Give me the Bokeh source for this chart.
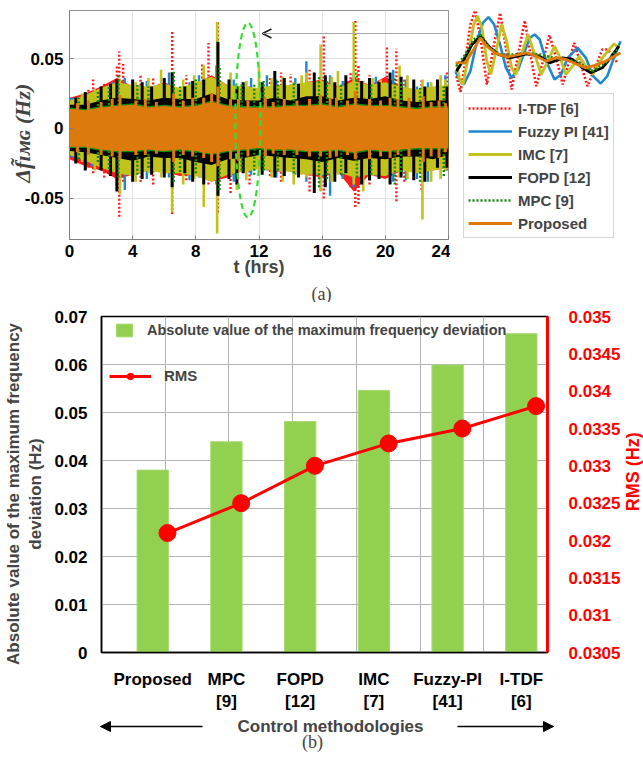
import numpy as np
from math import pi
from bokeh.plotting import figure
from bokeh.layouts import column, row
from bokeh.models import (Range1d, FixedTicker, Label, Arrow, OpenHead, NormalHead,
                          Legend, LegendItem, Grid, LinearAxis, ColumnDataSource)
from bokeh.transform import dodge
from bokeh.embed import file_html
from bokeh.resources import INLINE

SANS = "Liberation Sans"
SERIF = "Liberation Serif"
NB = "\u00a0"

# ---------------- (a) time series, values in mHz ----------------
hours = list(range(25))

itdf_hi = [22,25,30,36,30,29,33,28,32,38,31,28,27,30,29,33,35,30,36,31,37,30,27,29,31]
itdf_lo = [-22,-27,-30,-36,-33,-30,-31,-34,-33,-38,-35,-30,-28,-31,-30,-33,-35,-31,-45,-33,-36,-30,-31,-30,-28]
itdf_spk_t = [1.2,1.5,3.0,3.15,3.4,4.5,6.5,8.4,8.8,9.4,10.2,11.4,14.0,16.1,17.8,18.1,18.3,20.1,20.7,21.2,23.9,
              2.2,5.3,7.4,12.7,13.4,15.2,19.0,22.3]
itdf_spk_hi = [28,35,45,55,46,39,70,47,61,77,30,30,39,67,40,77,45,59,57,35,41,
               32,36,38,36,40,42,38,35]
itdf_spk_lo = [-28,-32,-40,-63,-38,-38,-61,-30,-40,-60,-46,-40,-30,-50,-42,-56,-54,-35,-52,-38,-30,
               -35,-40,-37,-34,-38,-45,-40,-44]

fuzzy_hi = [22,22,27,31,30,27,31,27,30,35,30,29,27,30,28,32,33,28,31,29,32,29,26,28,28]
fuzzy_lo = [-20,-23,-27,-31,-31,-28,-29,-31,-31,-35,-33,-28,-27,-29,-29,-32,-34,-30,-34,-31,-33,-28,-29,-28,-26]
fuzzy_spk_t = [0.1,3.5,6.3,9.3,11.5,12.5,13.1,15.0,16.5,18.0,20.5,22.0,23.8,
               1.4,2.7,4.9,7.6,8.2,10.4,14.3,17.3,19.4,21.3,22.7]
fuzzy_spk_hi = [21,36,40,45,36,38,35,48,38,40,42,30,38,
                26,33,34,33,38,35,36,34,37,35,33]
fuzzy_spk_lo = [-18,-44,-35,-40,-33,-30,-35,-38,-48,-42,-38,-36,-30,
                -27,-30,-36,-37,-35,-38,-33,-36,-34,-37,-38]

imc_hi = [20,24,29,33,31,30,32,29,33,37,31,30,29,31,31,33,34,29,34,31,33,30,28,30,31]
imc_lo = [-19,-23,-28,-32,-34,-30,-32,-32,-34,-38,-33,-31,-29,-30,-31,-33,-33,-31,-35,-33,-34,-30,-32,-30,-28]
imc_spk_t = [0.8,2.3,3.2,5.8,6.5,8.5,9.35,10.6,12.0,13.5,15.0,15.9,17.0,18.0,19.7,20.9,22.35,23.5,
             1.6,4.2,5.0,7.2,7.9,10.2,11.2,12.8,14.2,14.7,16.6,18.6,19.2,21.4,22.9,23.8]
imc_spk_hi = [25,30,35,42,40,45,76,32,43,37,40,60,41,76,35,45,35,38,
              28,33,36,35,38,40,34,36,33,38,37,34,36,38,33,35]
imc_spk_lo = [-24,-28,-47,-35,-60,-56,-75,-44,-30,-38,-35,-45,-33,-40,-30,-35,-65,-36,
              -30,-38,-32,-40,-36,-34,-37,-35,-40,-33,-38,-45,-34,-36,-38,-30]

fopd_hi = [17,17,20,22,21,20,22,21,21,25,21,20,20,22,20,23,23,20,22,21,23,20,19,20,20]
fopd_lo = [-16,-17,-19,-21,-23,-20,-21,-21,-24,-26,-22,-21,-19,-20,-21,-22,-24,-21,-23,-21,-22,-20,-20,-22,-19]
fopd_spk_t = [1.0,3.0,5.2,6.5,7.3,8.5,9.4,11.0,13.0,14.5,15.5,16.8,17.5,19.0,20.3,22.5,23.3,
              0.4,2.0,2.6,4.0,4.6,6.0,7.8,10.1,10.6,12.2,13.6,16.2,18.5,19.6,21.0,21.8,23.9]
fopd_spk_hi = [26,35,30,40,30,35,62,33,41,32,40,33,38,36,40,30,35,
               22,30,32,35,33,36,34,35,30,33,36,38,34,33,37,35,30]
fopd_spk_lo = [-30,-45,-33,-42,-32,-40,-48,-32,-35,-35,-46,-38,-32,-37,-40,-38,-28,
               -25,-30,-34,-38,-36,-35,-38,-36,-40,-33,-34,-42,-40,-36,-35,-37,-28]

mpc_hi = [15,14,16,17,18,16,17,16,17,20,17,16,16,16,17,17,18,16,18,17,17,16,15,16,16]
mpc_lo = [-14,-14,-16,-17,-17,-16,-17,-16,-17,-19,-17,-16,-15,-16,-16,-17,-17,-16,-18,-16,-17,-16,-15,-15,-15]
mpc_spk_t = [1.8,3.1,5.0,6.6,8.0,9.5,10.9,12.3,14.2,15.8,17.2,18.2,20.6,22.2,23.7,
             0.6,2.5,4.3,7.0,11.7,13.2,16.3,19.1,21.0]
mpc_spk_hi = [26,38,30,42,35,45,33,34,33,38,32,40,36,30,30,
              22,30,31,30,32,34,35,32,33]
mpc_spk_lo = [-24,-35,-28,-38,-32,-44,-30,-30,-32,-42,-33,-35,-40,-38,-34,
              -22,-29,-33,-31,-33,-30,-36,-33,-31]

prop_hi = [14,13,15,16,17,15,16,15,16,19,16,15,15,15,16,16,17,15,17,16,16,15,14,15,15]
prop_lo = [-13,-13,-15,-16,-16,-15,-16,-15,-16,-18,-16,-15,-14,-15,-15,-16,-16,-15,-17,-15,-16,-15,-14,-14,-14]
prop_spk_t = [1.2,3.2,4.8,6.6,7.8,9.4,10.7,12.4,13.6,15.9,16.9,18.1,20.3,21.5,22.4,23.4,
              0.5,2.0,2.7,4.2,5.5,7.2,8.5,9.0,10.2,11.3,12.9,14.4,15.2,16.5,17.6,19.0,19.7,20.8,22.9,23.8]
prop_spk_hi = [20,24,21,25,22,30,21,22,21,24,22,27,22,22,23,20,
               18,19,21,20,19,20,22,25,21,20,19,20,21,22,20,21,20,21,19,18]
prop_spk_lo = [-19,-22,-19,-24,-20,-27,-23,-20,-19,-20,-20,-22,-21,-20,-24,-21,
               -17,-19,-20,-19,-18,-19,-21,-24,-22,-20,-18,-19,-20,-21,-19,-22,-20,-19,-20,-17]

# zoomed window (inset), t in hours, v in mHz
inset_itdf_t = [10.608,10.642,10.684,10.726,10.768,10.816,10.866,10.922,10.978,11.028,11.076,11.132,11.188,11.236,11.286,11.342,11.398,11.454,11.51,11.56,11.608,11.664,11.72,11.784,11.846,11.888,11.93,11.972]
inset_itdf_v = [-10,-19.4,-1,21,29.4,11,-15,7,28,7,-18,3,23.4,3,-16,-1,14.6,1,-15,-2,10,-3,-16,-5,6,6,3,-2]
inset_fuzzy_t = [10.6,10.636,10.67,10.726,10.782,10.832,10.88,10.928,10.978,11.028,11.076,11.132,11.188,11.23,11.272,11.314,11.37,11.44,11.496,11.552,11.636,11.706,11.768,11.832,11.888,11.944,12.0]
inset_fuzzy_v = [-7,-12.6,-15,-7,11,22,25.4,21,9,-5,-11,-6,5,13,15,12,-1,-12,-9,1,7,1,-10,-14.4,-10,1,11]
inset_imc_t = [10.608,10.636,10.664,10.712,10.754,10.788,10.824,10.866,10.9,10.944,10.992,11.034,11.076,11.112,11.16,11.216,11.272,11.328,11.384,11.44,11.488,11.538,11.594,11.65,11.706,11.762,11.846,11.944,11.986]
inset_imc_v = [-3,-12,-15,3,21,26,19,-1,-9,5,21,11,-5,-9,3,15,3,-9,-1,8,1,-9,-4,2,-4,-9,1,9.4,7]
inset_fopd_t = [10.608,10.67,10.74,10.81,10.88,10.964,11.062,11.202,11.314,11.398,11.51,11.594,11.678,11.748,11.846,11.916,11.986]
inset_fopd_v = [-7,0,9,14,8,3,1,3.4,2,-2,1,0,-5,-8,-5,1,8]
inset_mpc_t = [10.608,10.684,10.754,10.81,10.894,10.978,11.09,11.202,11.314,11.426,11.538,11.65,11.762,11.874,11.986]
inset_mpc_v = [-4,3,12,15,7,3,3,4,3,1,0,-2,-7,-2,7]
inset_prop_t = [10.6,10.684,10.754,10.81,10.866,10.936,11.034,11.146,11.202,11.286,11.37,11.454,11.538,11.622,11.706,11.79,11.874,12.0]
inset_prop_v = [-2,-2,6,13,8,4,1.4,3,4,2,-1,1,0,-2.6,-5,-3.4,-1,4]

series_names = ["I-TDF [6]", "Fuzzy PI [41]", "IMC [7]", "FOPD [12]", "MPC [9]", "Proposed"]
y_ticks_a = [-0.05, 0, 0.05]
x_ticks_a = [0, 4, 8, 12, 16, 20, 24]

# ---------------- (b) bar + line data ----------------
methods = ["Proposed", "MPC\n[9]", "FOPD\n[12]", "IMC\n[7]", "Fuzzy-PI\n[41]", "I-TDF\n[6]"]
max_dev = [0.0380, 0.0439, 0.0481, 0.0546, 0.0599, 0.0664]
rms = [0.0321, 0.0325, 0.0330, 0.0333, 0.0335, 0.0338]
left_ticks_b = [0, 0.01, 0.02, 0.03, 0.04, 0.05, 0.06, 0.07]
rms_ticks_b = [0.0305, 0.031, 0.0315, 0.032, 0.0325, 0.033, 0.0335, 0.034, 0.0345, 0.035]

# ---------------- styles ----------------
styles = [
    dict(color="#FF1A1A", dash="2 2", w=2.4),
    dict(color="#1E88D0", dash="solid", w=2.4),
    dict(color="#C2C21C", dash="solid", w=2.6),
    dict(color="#000000", dash="solid", w=3.0),
    dict(color="#118811", dash="2 2", w=2.4),
    dict(color="#DD7A0E", dash="solid", w=3.0),
]
core = [(itdf_hi, itdf_lo), (fuzzy_hi, fuzzy_lo), (imc_hi, imc_lo),
        (fopd_hi, fopd_lo), (mpc_hi, mpc_lo), (prop_hi, prop_lo)]
spikes = [(itdf_spk_t, itdf_spk_hi, itdf_spk_lo), (fuzzy_spk_t, fuzzy_spk_hi, fuzzy_spk_lo),
          (imc_spk_t, imc_spk_hi, imc_spk_lo), (fopd_spk_t, fopd_spk_hi, fopd_spk_lo),
          (mpc_spk_t, mpc_spk_hi, mpc_spk_lo), (prop_spk_t, prop_spk_hi, prop_spk_lo)]
insets = [(inset_itdf_t, inset_itdf_v), (inset_fuzzy_t, inset_fuzzy_v), (inset_imc_t, inset_imc_v),
          (inset_fopd_t, inset_fopd_v), (inset_mpc_t, inset_mpc_v), (inset_prop_t, inset_prop_v)]

ZOOM_T0, ZOOM_T1, ZOOM_H, ZOOM_C = 10.5, 12.1, 0.139, 0.006

# ================= figure (a): main =================
TOP_B, BOT_B = 10, 45
p1 = figure(width=450, height=284, x_range=Range1d(0, 24), y_range=Range1d(-0.07929, 0.08429),
            output_backend="svg", toolbar_location=None,
            min_border_left=69, min_border_right=2, min_border_top=TOP_B, min_border_bottom=BOT_B)

def x1(px):
    return (px - 69) / 379 * 24

def y1(py):
    return (128 - py) / 70 * 0.05

for st, (hi, lo), (st_t, st_hi, st_lo) in zip(styles, core, spikes):
    p1.varea(x=hours, y1=np.array(lo) / 1000, y2=np.array(hi) / 1000, fill_color=st["color"])
    p1.segment(x0=st_t, x1=st_t, y0=np.array(st_lo) / 1000, y1=np.array(st_hi) / 1000,
               line_color=st["color"], line_width=st["w"], line_dash=st["dash"])

p1.ellipse(x=[(ZOOM_T0 + ZOOM_T1) / 2], y=[ZOOM_C], width=[ZOOM_T1 - ZOOM_T0], height=[ZOOM_H],
           fill_alpha=0, line_color="#33DD33", line_width=2.2, line_dash="6 4")
p1.add_layout(Arrow(x_start=24, y_start=y1(33), x_end=x1(262), y_end=y1(33),
                    line_color="#A8A8A8", line_width=1.2,
                    end=OpenHead(size=9, line_width=1.6, line_color="#222222")))

p1.xaxis.ticker = FixedTicker(ticks=x_ticks_a)
p1.yaxis.ticker = FixedTicker(ticks=y_ticks_a)
p1.yaxis.major_label_overrides = {t: ("0" if t == 0 else f"{t:g}") for t in y_ticks_a}
for ax in (p1.xaxis[0], p1.yaxis[0]):
    ax.axis_line_color = "#808080"
    ax.major_tick_line_color = "#808080"
    ax.major_tick_in = 4
    ax.major_tick_out = 0
    ax.minor_tick_line_color = None
    ax.major_label_text_font = SANS
    ax.major_label_text_font_style = "bold"
    ax.major_label_text_font_size = "17px"
    ax.major_label_text_color = "black"
p1.xaxis.major_label_standoff = 5
p1.yaxis.major_label_standoff = 6
p1.xaxis.axis_label = "t (hrs)"
p1.xaxis.axis_label_standoff = -3
p1.xaxis.axis_label_text_font = SANS
p1.xaxis.axis_label_text_font_style = "bold"
p1.xaxis.axis_label_text_font_size = "18px"
p1.yaxis.axis_label = "Δf\u0303\u026a\u1d0d\u0262 (Hz)" + NB * 3
p1.yaxis.axis_label_standoff = -13
p1.yaxis.axis_label_text_font = SERIF
p1.yaxis.axis_label_text_font_style = "bold italic"
p1.yaxis.axis_label_text_font_size = "22px"
p1.xgrid.ticker = FixedTicker(ticks=x_ticks_a)
p1.ygrid.ticker = FixedTicker(ticks=y_ticks_a)
p1.grid.grid_line_color = "#E2E2E2"
p1.outline_line_color = "#909090"

# ================= figure (a): zoom + legend =================
p2 = figure(width=193, height=284, x_range=Range1d(10.5576, 12.1951), y_range=Range1d(-108, 29.4),
            output_backend="svg", toolbar_location=None, x_axis_type=None, y_axis_type=None,
            min_border_left=0, min_border_right=0, min_border_top=TOP_B, min_border_bottom=BOT_B)
p2.outline_line_color = None
items = []
for st, (tt, vv), name in zip(styles, insets, series_names):
    r = p2.line(tt, vv, line_color=st["color"], line_width=min(st["w"], 2.6) + 0.2, line_dash=st["dash"])
    items.append(LegendItem(label=name, renderers=[r]))
leg = Legend(items=items, location=(13, 1), border_line_color="#B0B0B0", border_line_width=1,
             background_fill_color="white", padding=4, spacing=3, margin=0,
             glyph_width=44, glyph_height=20, label_height=20, label_standoff=6,
             label_text_font=SANS, label_text_font_style="bold", label_text_font_size="15px")
p2.add_layout(leg)

# ================= caption strip (a) =================
pa = figure(width=643, height=18, x_range=Range1d(0, 643), y_range=Range1d(302, 284),
            output_backend="svg", toolbar_location=None, x_axis_type=None, y_axis_type=None,
            min_border=0)
pa.outline_line_color = None
pa.add_layout(Label(x=321, y=293, text="(a)", text_align="center", text_baseline="middle",
                    text_font=SERIF, text_font_size="18px"))

# ================= figure (b) =================
TOP_C, BOT_C = 14, 56
p3 = figure(width=623, height=412, x_range=Range1d(-0.695, 5.355), y_range=Range1d(0, 0.07),
            output_backend="svg", toolbar_location=None,
            min_border_left=99, min_border_right=69, min_border_top=TOP_C, min_border_bottom=BOT_C)
p3.extra_y_ranges = {"rms": Range1d(0.0305, 0.035)}
p3.extra_x_ranges = {"grid": Range1d(0, 7)}

src = ColumnDataSource(dict(idx=list(range(len(methods))), maxdev=max_dev, rms=rms))

p3.xgrid.visible = False
p3.add_layout(Grid(dimension=0, ticker=FixedTicker(ticks=[1, 2, 3, 4, 5, 6]), x_range_name="grid",
                   grid_line_color="#B4B4B4", grid_line_width=1))
p3.ygrid.ticker = FixedTicker(ticks=left_ticks_b)
p3.ygrid.grid_line_color = "#B4B4B4"

bars = p3.vbar(x="idx", top="maxdev", width=0.425, source=src, fill_color="#92D050",
               line_color="#A6DA70", line_width=1)
rline = p3.line(x=dodge("idx", 0.2), y="rms", source=src, y_range_name="rms",
                line_color="#FF0000", line_width=3)
rdots = p3.scatter(x=dodge("idx", 0.2), y="rms", source=src, y_range_name="rms",
                   size=17, fill_color="#FF0000", line_color="#FF0000")

p3.xaxis.ticker = FixedTicker(ticks=list(range(len(methods))))
p3.xaxis.major_label_overrides = {i: m for i, m in enumerate(methods)}
p3.yaxis.ticker = FixedTicker(ticks=left_ticks_b)
p3.yaxis.major_label_overrides = {t: ("0" if t == 0 else f"{t:g}") for t in left_ticks_b}
for ax in (p3.xaxis[0], p3.yaxis[0]):
    ax.axis_line_color = "black"
    ax.axis_line_width = 1.5
    ax.major_tick_line_color = None
    ax.minor_tick_line_color = None
    ax.major_label_text_font = SANS
    ax.major_label_text_font_style = "bold"
    ax.major_label_text_font_size = "17px"
    ax.major_label_text_color = "black"
p3.xaxis.major_label_standoff = 11
p3.yaxis.major_label_standoff = 8
p3.yaxis.axis_label = ("Absolute value of the maximum frequency" + NB * 4 + "\n"
                       + "deviation (Hz)" + NB * 4)
p3.yaxis.axis_label_standoff = 6
p3.yaxis.axis_label_text_font = SANS
p3.yaxis.axis_label_text_font_style = "bold"
p3.yaxis.axis_label_text_font_size = "17px"

raxis = LinearAxis(y_range_name="rms", ticker=FixedTicker(ticks=rms_ticks_b))
raxis.major_label_overrides = {t: f"{t:g}" for t in rms_ticks_b}
raxis.axis_line_color = "#FF0000"
raxis.axis_line_width = 3
raxis.major_tick_line_color = None
raxis.minor_tick_line_color = None
raxis.major_label_standoff = 15
raxis.major_label_text_font = SANS
raxis.major_label_text_font_style = "bold"
raxis.major_label_text_font_size = "17px"
raxis.major_label_text_color = "#FF0000"
p3.add_layout(raxis, "right")
p3.outline_line_color = "black"
p3.outline_line_width = 1.5

leg_b1 = Legend(items=[LegendItem(label="Absolute value of the maximum frequency deviation", renderers=[bars])],
                location=(13, 314), padding=0, margin=0, border_line_color=None,
                background_fill_alpha=0, glyph_width=20, glyph_height=16, label_height=16,
                label_standoff=13, label_text_font=SANS, label_text_font_style="bold",
                label_text_font_size="14.5px")
leg_b2 = Legend(items=[LegendItem(label="RMS", renderers=[rline, rdots])],
                location=(8, 268), padding=0, margin=0, border_line_color=None,
                background_fill_alpha=0, glyph_width=42, glyph_height=16, label_height=16,
                label_standoff=13, label_text_font=SANS, label_text_font_style="bold",
                label_text_font_size="15px")
p3.add_layout(leg_b1)
p3.add_layout(leg_b2)

# right strip for the RMS axis title
pr = figure(width=20, height=412, x_range=Range1d(623, 643), y_range=Range1d(658, 316),
            output_backend="svg", toolbar_location=None, x_axis_type=None, y_axis_type=None,
            min_border_left=0, min_border_right=0, min_border_top=TOP_C, min_border_bottom=BOT_C)
pr.outline_line_color = None
pr.add_layout(Label(x=632, y=474, text="RMS (Hz)", angle=pi / 2, text_align="center",
                    text_baseline="middle", text_font=SANS, text_font_style="bold",
                    text_font_size="18px", text_color="#FF0000"))

# ================= caption strip (b) =================
pb = figure(width=643, height=49, x_range=Range1d(0, 643), y_range=Range1d(763, 714),
            output_backend="svg", toolbar_location=None, x_axis_type=None, y_axis_type=None,
            min_border=0)
pb.outline_line_color = None
pb.add_layout(Label(x=330, y=726, text="Control methodologies", text_align="center",
                    text_baseline="middle", text_font=SANS, text_font_style="bold",
                    text_font_size="17px"))
pb.add_layout(Label(x=312, y=741, text="(b)", text_align="center", text_baseline="middle",
                    text_font=SERIF, text_font_size="18px"))
pb.add_layout(Arrow(x_start=202, y_start=726, x_end=100, y_end=726, line_color="black",
                    line_width=1.5, end=NormalHead(size=10, fill_color="black", line_color="black")))
pb.add_layout(Arrow(x_start=457, y_start=726, x_end=553, y_end=726, line_color="black",
                    line_width=1.5, end=NormalHead(size=10, fill_color="black", line_color="black")))

layout = column(row(p1, p2), pa, row(p3, pr), pb)
open("out.html", "w").write(file_html(layout, INLINE))
